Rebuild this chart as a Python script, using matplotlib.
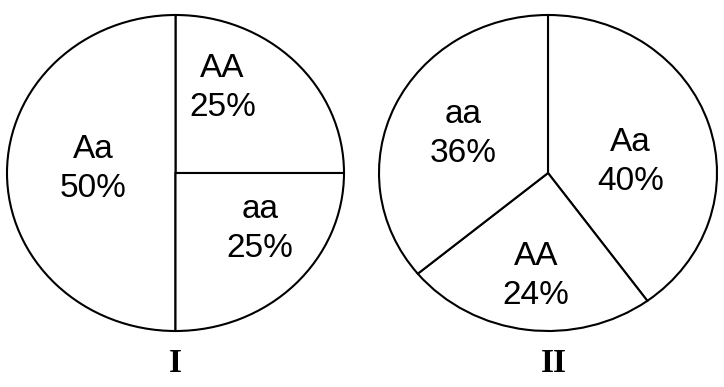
import matplotlib.pyplot as plt

# pie I: counter-clockwise from 3 o'clock
labels_1 = ['AA', 'Aa', 'aa']
values_1 = [25, 50, 25]
# pie II: clockwise from 12 o'clock
labels_2 = ['Aa', 'AA', 'aa']
values_2 = [40, 24, 36]
titles = ['I', 'II']

# where each label sits inside its wedge (axes data units, -1..1)
label_pos_1 = [(0.278, 0.538), (-0.49, 0.025), (0.503, -0.354)]
label_pos_2 = [(0.488, 0.07), (-0.07, -0.652), (-0.5, 0.247)]

W, H = 724, 387
fig = plt.figure(figsize=(W / 100, H / 100), dpi=100)
fig.patch.set_facecolor('white')


def px_axes(x0, x1, y0, y1):
    return fig.add_axes([x0 / W, 1 - y1 / H, (x1 - x0) / W, (y1 - y0) / H])


wedge_style = dict(facecolor='white', edgecolor='black', linewidth=1.5)
text_style = dict(fontsize=24, family='Liberation Sans', ha='center', va='center',
                  linespacing=1.3)

ax1 = px_axes(7, 344, 15, 331)
ax1.pie(values_1, startangle=0, counterclock=True, wedgeprops=wedge_style)
for lab, val, (x, y) in zip(labels_1, values_1, label_pos_1):
    ax1.text(x, y, f'{lab}\n{val}%', **text_style)

ax2 = px_axes(379, 717, 15, 331)
ax2.pie(values_2, startangle=90, counterclock=False, wedgeprops=wedge_style)
for lab, val, (x, y) in zip(labels_2, values_2, label_pos_2):
    ax2.text(x, y, f'{lab}\n{val}%', **text_style)

for ax in (ax1, ax2):
    ax.set_aspect('auto')
    ax.set_xlim(-1, 1)
    ax.set_ylim(-1, 1)
    ax.axis('off')
    for p in ax.patches:
        p.set_clip_on(False)

fig.text(175 / W, 1 - 363 / H, titles[0], ha='center', va='center',
         fontsize=24, family='Liberation Serif', fontweight='bold')
fig.text(554 / W, 1 - 363 / H, titles[1], ha='center', va='center',
         fontsize=24, family='Liberation Serif', fontweight='bold')

fig.savefig('out.png', dpi=100, facecolor='white')
